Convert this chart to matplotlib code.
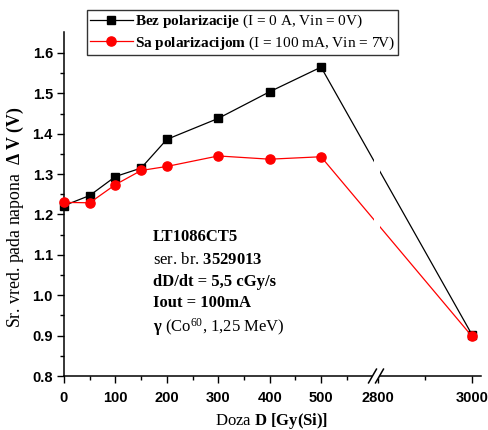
import numpy as np
import matplotlib
matplotlib.use('Agg')
import matplotlib.pyplot as plt
from matplotlib.lines import Line2D
from matplotlib.patches import Rectangle

plt.rcParams['font.family'] = ['Liberation Serif', 'DejaVu Serif']
plt.rcParams['mathtext.fontset'] = 'custom'
plt.rcParams['mathtext.rm'] = 'Liberation Serif'
plt.rcParams['mathtext.it'] = 'Liberation Serif:italic'
plt.rcParams['mathtext.bf'] = 'Liberation Serif:bold'

# data
doza = [0, 50, 100, 150, 200, 300, 400, 500, 3000]
bez_pol = [1.222, 1.247, 1.294, 1.315, 1.386, 1.438, 1.504, 1.565, 0.902]
sa_pol = [1.230, 1.229, 1.274, 1.309, 1.319, 1.345, 1.337, 1.343, 0.898]
x_major = [0, 100, 200, 300, 400, 500, 2800, 3000]
x_minor = [50, 150, 250, 350, 450, 550, 2900]
y_major = [0.8, 0.9, 1.0, 1.1, 1.2, 1.3, 1.4, 1.5, 1.6]

# broken x axis: 0..~605 linear, then jump to ~2795..3020 with a different scale
K = 0.9144


def fwd(x):
    x = np.asarray(x, dtype=float)
    return np.where(x < 605, x,
                    np.where(x < 2795, 605 + (x - 605) * (1.3 / 2190),
                             606.3 + (x - 2795) * K))


def inv(t):
    t = np.asarray(t, dtype=float)
    return np.where(t < 605, t,
                    np.where(t < 606.3, 605 + (t - 605) * (2190 / 1.3),
                             2795 + (t - 606.3) / K))


fig = plt.figure(figsize=(4.89, 4.30), dpi=100, facecolor='white')
ax = fig.add_axes([64 / 489, 1 - 376 / 430, 417 / 489, 344 / 430])
ax.set_xscale('function', functions=(fwd, inv))

ax.plot(doza, bez_pol, color='black', lw=0.9, marker='s', ms=5.8,
        mec='black', mfc='black', zorder=3, clip_on=False)
ax.plot(doza, sa_pol, color='#ff0000', lw=0.9, marker='o', ms=6.6,
        mec='#ff0000', mfc='#ff0000', zorder=3, clip_on=False)

ax.set_xlim(0, 3019)
ax.set_ylim(0.8, 1.652)

ax.set_xticks(x_major)
ax.set_xticks(x_minor, minor=True)
ax.set_yticks(y_major)
ax.set_yticks(np.arange(0.85, 1.65, 0.1), minor=True)
ax.set_xticklabels([str(v) for v in x_major])
ax.set_yticklabels(['%.1f' % v for v in y_major])

for lab in ax.get_xticklabels() + ax.get_yticklabels():
    lab.set_family(['Liberation Sans', 'DejaVu Sans'])
    lab.set_fontweight('bold')
    lab.set_fontsize(10.5)

ax.tick_params(which='major', direction='out', length=5, width=1, pad=3)
ax.tick_params(axis='x', which='major', pad=6)
ax.tick_params(which='minor', direction='out', length=3, width=1)
ax.spines['top'].set_visible(False)
ax.spines['right'].set_visible(False)
for s in ('left', 'bottom'):
    ax.spines[s].set_linewidth(1.1)

# white gap through the lines at the break
ax.add_patch(Rectangle((603, 1.05), 2804 - 603, 0.45, facecolor='white',
                       edgecolor='none', zorder=4))

# break marks on the x axis
bx1, bx2 = (372.5 - 64) / 417, (379.5 - 64) / 417
ax.add_patch(Rectangle((bx1, -0.01), bx2 - bx1, 0.02, transform=ax.transAxes,
                       facecolor='white', edgecolor='none', zorder=5, clip_on=False))
dx, dy = 0.0095, 0.02
for bx in (bx1, bx2):
    ax.plot([bx - dx, bx + dx], [-dy, dy], color='black', lw=1.1,
            transform=ax.transAxes, clip_on=False, zorder=6)

ax.set_xlabel(r'Doza $\mathbf{D\ [Gy(Si)]}$', fontsize=12)
ax.xaxis.set_label_coords((272 - 64) / 417, -(421 - 376) / 344)
ax.xaxis.label.set_va('center')
ax.set_ylabel(r'Sr. vred. pada napona  $\mathbf{\Delta\ V\ (V)}$', fontsize=12.8)
ax.yaxis.set_label_coords((15 - 64) / 417, (376 - 217) / 344)
ax.yaxis.label.set_va('center')

# legend
handles = [
    Line2D([], [], color='black', lw=0.9, marker='s', ms=5.8),
    Line2D([], [], color='#ff0000', lw=0.9, marker='o', ms=6.6),
]
labels = [
    r'$\mathbf{Bez\ polarizacije}$ (I = 0 A, Vin = 0V)',
    r'$\mathbf{Sa\ polarizacijom}$ (I = 100 mA, Vin = 7V)',
]
leg = fig.legend(handles, labels, loc='upper left',
                 bbox_to_anchor=(87 / 489, 1 - 10 / 430), fontsize=11,
                 frameon=True, fancybox=False, edgecolor='black',
                 handlelength=2.8, handletextpad=0.15, borderpad=0.2,
                 labelspacing=0.25, borderaxespad=0)
leg.get_frame().set_linewidth(1.0)

# annotation block
ann = [
    ('LT1086CT5', 'bold'),
    (r'ser. br. $\mathbf{3529013}$', 'normal'),
    ('dD/dt = 5,5 cGy/s', 'bold'),
    ('Iout = 100mA', 'bold'),
    (r'$\mathbf{\gamma}$ (Co$^{60}$, 1,25 MeV)', 'normal'),
]
ann_y = [237, 260, 282, 303, 327]
for (t, w), yy in zip(ann, ann_y):
    fig.text(153 / 489, 1 - yy / 430, t, fontsize=12, fontweight=w,
             ha='left', va='center')

fig.savefig('out.png', dpi=100, facecolor='white')
